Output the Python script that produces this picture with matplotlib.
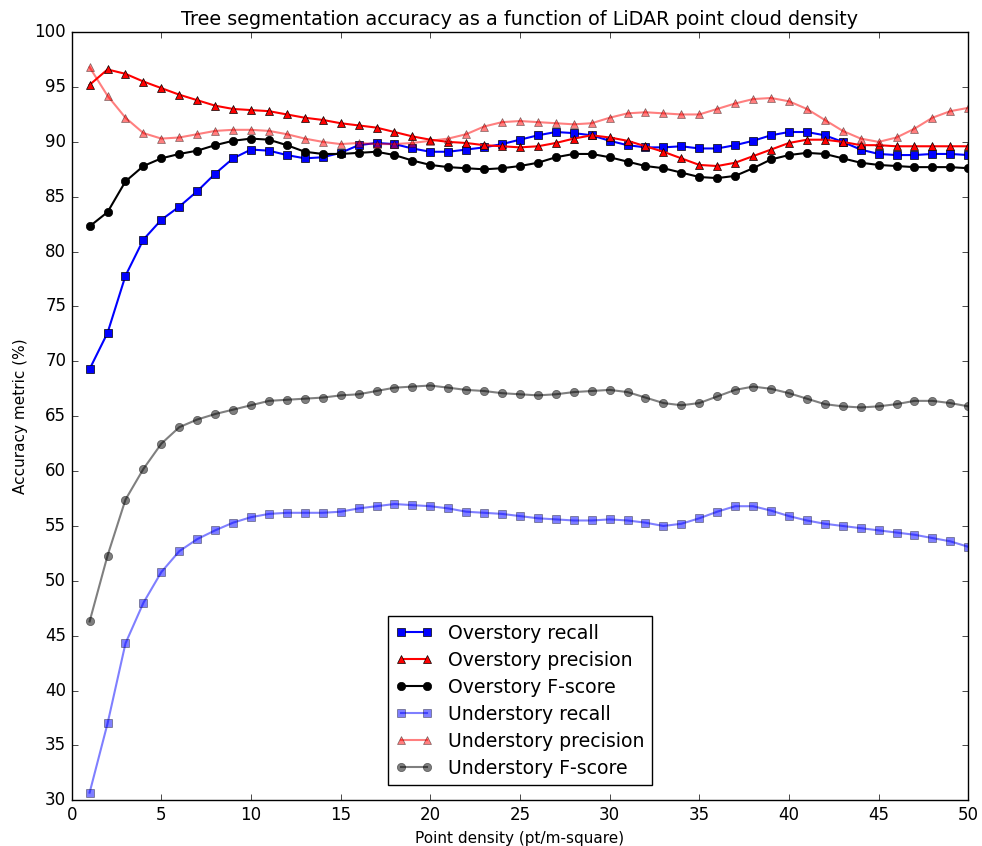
import numpy as np
import matplotlib
matplotlib.use('Agg')
import matplotlib.pyplot as plt

plt.style.use('classic')
plt.rcParams['font.family'] = ['DejaVu Sans']

density = np.arange(1, 51)

over_recall = [69.3, 72.6, 77.8, 81.1, 82.9, 84.1, 85.5, 87.1, 88.5, 89.3,
               89.2, 88.8, 88.5, 88.6, 89.0, 89.7, 89.9, 89.8, 89.4, 89.1,
               89.1, 89.3, 89.5, 89.8, 90.2, 90.6, 90.9, 90.8, 90.6, 90.1,
               89.7, 89.5, 89.5, 89.6, 89.4, 89.4, 89.7, 90.1, 90.6, 90.9,
               90.9, 90.6, 90.0, 89.3, 88.9, 88.8, 88.8, 88.9, 88.9, 88.8]

over_precision = [95.2, 96.6, 96.2, 95.5, 94.9, 94.3, 93.8, 93.3, 93.0, 92.9,
                  92.8, 92.5, 92.2, 92.0, 91.7, 91.5, 91.3, 90.9, 90.5, 90.2,
                  90.0, 89.9, 89.7, 89.6, 89.5, 89.6, 89.9, 90.3, 90.6, 90.4,
                  90.1, 89.6, 89.1, 88.5, 87.9, 87.8, 88.1, 88.7, 89.3, 89.9,
                  90.2, 90.2, 90.0, 89.7, 89.7, 89.6, 89.6, 89.6, 89.6, 89.6]

over_fscore = [82.3, 83.6, 86.4, 87.8, 88.5, 88.9, 89.2, 89.7, 90.1, 90.3,
               90.2, 89.7, 89.1, 88.9, 88.9, 89.0, 89.1, 88.8, 88.3, 87.9,
               87.7, 87.6, 87.5, 87.6, 87.8, 88.1, 88.6, 88.9, 88.9, 88.6,
               88.2, 87.8, 87.6, 87.2, 86.8, 86.7, 86.9, 87.6, 88.4, 88.8,
               89.0, 88.9, 88.5, 88.1, 87.9, 87.8, 87.7, 87.7, 87.7, 87.6]

under_recall = [30.7, 37.0, 44.3, 48.0, 50.8, 52.7, 53.8, 54.6, 55.3, 55.8,
                56.1, 56.2, 56.2, 56.2, 56.3, 56.6, 56.8, 57.0, 56.9, 56.8,
                56.6, 56.3, 56.2, 56.1, 55.9, 55.7, 55.6, 55.5, 55.5, 55.6,
                55.5, 55.3, 55.0, 55.2, 55.7, 56.3, 56.8, 56.8, 56.4, 55.9,
                55.5, 55.2, 55.0, 54.8, 54.6, 54.4, 54.2, 53.9, 53.6, 53.1]

under_precision = [96.8, 94.2, 92.2, 90.8, 90.3, 90.4, 90.7, 91.0, 91.1, 91.1,
                   91.0, 90.7, 90.3, 90.0, 89.8, 89.9, 89.8, 89.8, 89.9, 90.1,
                   90.3, 90.7, 91.4, 91.8, 91.9, 91.8, 91.7, 91.6, 91.7, 92.2,
                   92.6, 92.7, 92.6, 92.5, 92.5, 93.0, 93.5, 93.9, 94.0, 93.7,
                   93.0, 92.0, 91.0, 90.3, 90.0, 90.4, 91.2, 92.2, 92.8, 93.1]

under_fscore = [46.3, 52.3, 57.4, 60.2, 62.5, 64.0, 64.7, 65.2, 65.6, 66.0,
                66.4, 66.5, 66.6, 66.7, 66.9, 67.0, 67.3, 67.6, 67.7, 67.8,
                67.6, 67.4, 67.3, 67.1, 67.0, 66.9, 67.0, 67.2, 67.3, 67.4,
                67.2, 66.7, 66.2, 66.0, 66.2, 66.8, 67.4, 67.7, 67.5, 67.1,
                66.6, 66.1, 65.9, 65.8, 65.9, 66.1, 66.4, 66.4, 66.2, 65.9]

fig = plt.figure(figsize=(9.82, 8.46), dpi=100)
fig.patch.set_facecolor('white')
ax = fig.add_axes([0.073, 0.054, 0.913, 0.908])

ax.plot(density, over_recall, 's-', color='b', mec='k', lw=1.5, ms=6, label='Overstory recall')
ax.plot(density, over_precision, '^-', color='r', mec='k', lw=1.5, ms=6, label='Overstory precision')
ax.plot(density, over_fscore, 'o-', color='k', mec='k', lw=1.5, ms=6, label='Overstory F-score')
ax.plot(density, under_recall, 's-', color='b', mec='k', lw=1.5, ms=6, alpha=0.5, label='Understory recall')
ax.plot(density, under_precision, '^-', color='r', mec='k', lw=1.5, ms=6, alpha=0.5, label='Understory precision')
ax.plot(density, under_fscore, 'o-', color='k', mec='k', lw=1.5, ms=6, alpha=0.5, label='Understory F-score')

ax.set_xlim(0, 50)
ax.set_ylim(30, 100)
ax.set_xticks(np.arange(0, 51, 5))
ax.set_yticks(np.arange(30, 101, 5))
ax.tick_params(labelsize=12)

ax.set_title('Tree segmentation accuracy as a function of LiDAR point cloud density', fontsize=13.8)
ax.set_xlabel('Point density (pt/m-square)', fontsize=11)
ax.set_ylabel('Accuracy metric (%)', fontsize=11)

ax.legend(loc='lower center', fontsize=13.6, numpoints=2, borderaxespad=0.8, labelspacing=0.42)

fig.savefig('out.png', dpi=100, facecolor='white')
